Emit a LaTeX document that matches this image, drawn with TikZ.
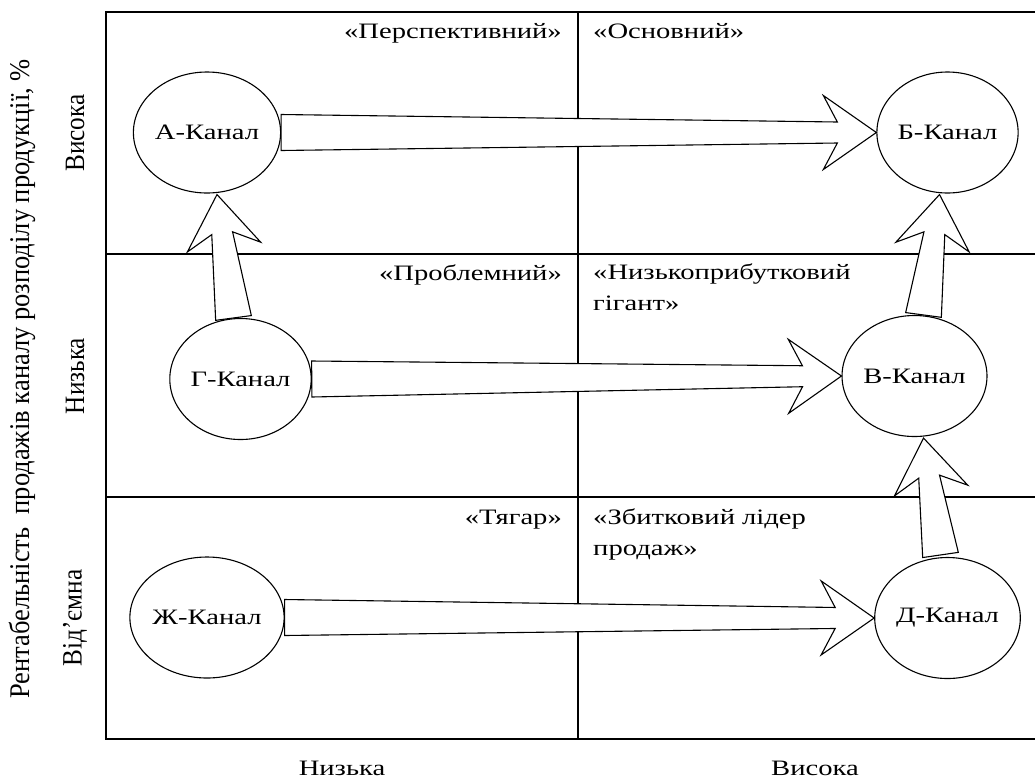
\documentclass[tikz,border=0pt]{standalone}
\usepackage{fontspec}
\setmainfont{Liberation Serif}
\newfontfamily\widefont[FakeStretch=1.3]{Liberation Serif}
\newfontfamily\narrowfont[FakeStretch=0.93]{Liberation Serif}
\newfontfamily\narrowerfont[FakeStretch=0.9]{Liberation Serif}
\usetikzlibrary{shapes.geometric,calc}
\tikzset{
  chan/.style={ellipse, draw, line width=1.1pt, minimum width=135pt, minimum height=121pt,
    inner sep=0pt, fill=white, font=\widefont\fontsize{22}{26}\selectfont},
  gridline/.style={line width=1.4pt},
  blk/.style={draw, fill=white, line width=1.1pt, line join=miter},
  qlab/.style={inner sep=0pt, font=\widefont\fontsize{22}{30.5}\selectfont},
  rlab/.style={inner sep=0pt, rotate=90, font=\narrowfont\fontsize{28.5}{30}\selectfont},
  rowlab/.style={inner sep=0pt, rotate=90, font=\narrowerfont\fontsize{28}{30}\selectfont},
}
\newcommand\blkarrow[2]{%
  \coordinate (bs) at (#1);
  \coordinate (bt) at (#2);
  \coordinate (bn) at ($(bt)!39pt!(bs)$);
  \coordinate (bw) at ($(bt)!53pt!(bs)$);
  \draw[blk] ($(bs)!18pt!90:(bt)$) -- ($(bn)!10.5pt!90:(bt)$) -- ($(bw)!37pt!90:(bt)$)
    -- (bt) -- ($(bw)!37pt!-90:(bt)$) -- ($(bn)!10.5pt!-90:(bt)$)
    -- ($(bs)!18pt!-90:(bt)$) -- cycle;
}
\begin{document}
\begin{tikzpicture}[x=1pt,y=-1pt]
\useasboundingbox (0,0) rectangle (1035,780);
% grid
\draw[gridline] (1036,12) -- (106,12) -- (106,739) -- (1036,739);
\draw[gridline] (106,254) -- (1036,254);
\draw[gridline] (106,497) -- (1036,497);
\draw[gridline] (578,12) -- (578,739);
% quadrant labels
\node[qlab, anchor=base east] (q1) at (562,38) {«Перспективний»};
\node[qlab, anchor=base west] (q2) at (593,38) {«Основний»};
\node[qlab, anchor=base east] (q3) at (562,280) {«Проблемний»};
\node[qlab, anchor=base west, align=left] (q4) at (593,310) {«Низькоприбутковий\\гігант»};
\node[qlab, anchor=base east] (q5) at (562,524) {«Тягар»};
\node[qlab, anchor=base west, align=left] (q6) at (593,555) {«Збитковий лідер\\продаж»};
% channels
\node[chan] (A) at (207,132.5) {А-Канал};
\node[chan] (B) at (947.5,132.5) {Б-Канал};
\node[chan] (G) at (240.5,379) {Г-Канал};
\node[chan] (V) at (914.5,376) {В-Канал};
\node[chan] (Zh) at (207,617.5) {Ж-Канал};
\node[chan] (D) at (947.5,618) {Д-Канал};
% arrows
\blkarrow{A.east}{B.west}
\blkarrow{G.east}{V.west}
\blkarrow{Zh.east}{D.west}
\coordinate (g1) at ($(G.north)+(-7,0)$);
\coordinate (a1) at ($(A.south)+(10,1)$);
\blkarrow{g1}{a1}
\coordinate (v1) at ($(V.north)+(9,0)$);
\coordinate (b1) at ($(B.south)+(-8,1)$);
\blkarrow{v1}{b1}
\coordinate (d1) at ($(D.north)+(-7,-2)$);
\coordinate (v2) at ($(V.south)+(9,1)$);
\blkarrow{d1}{v2}
% axis labels
\node[qlab] (xl) at (342,768) {Низька};
\node[qlab] (xh) at (815,768) {Висока};
\node[rlab] (ya) at (22,379) {Рентабельність\ \ продажів каналу розподілу продукції, \%};
\node[rowlab] (yh) at (75,133) {Висока};
\node[rowlab] (yl) at (75,376) {Низька};
\node[rowlab] (yn) at (75,618) {Від’ємна};
\end{tikzpicture}
\end{document}
